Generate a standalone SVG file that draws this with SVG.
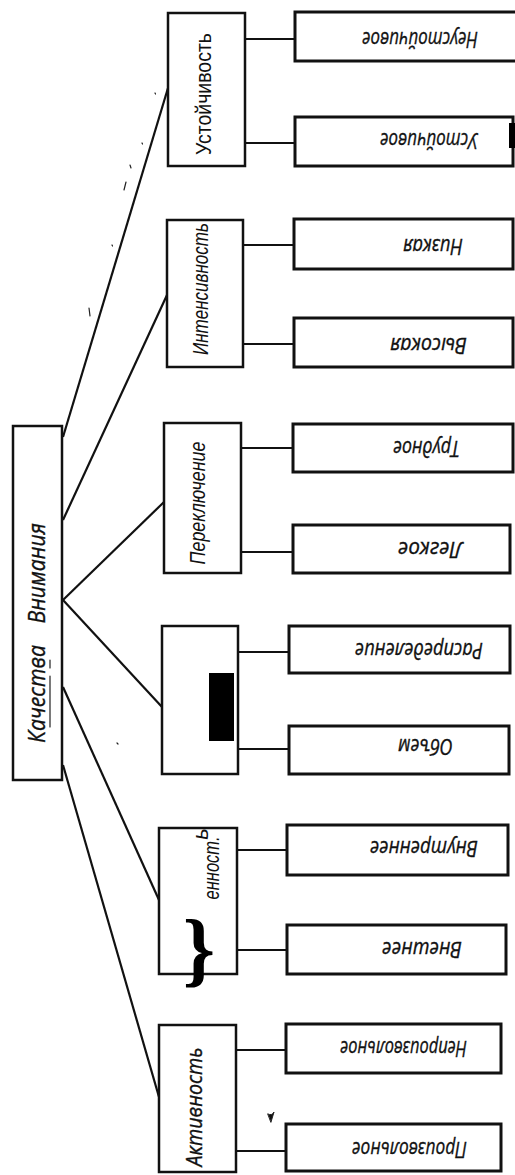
<svg xmlns="http://www.w3.org/2000/svg" width="515" height="1175" viewBox="0 0 515 1175">
<style>
.bg{fill:#fff}
.root{fill:#fff;stroke:#111;stroke-width:2.5}
.cat{fill:#fff;stroke:#111;stroke-width:2.5}
.leaf{fill:#fff;stroke:#111;stroke-width:3}
.conn line{stroke:#111;stroke-width:2.2;fill:none}
.lbl{font-family:"Liberation Sans",Arial,sans-serif;font-size:22px;fill:#111;text-anchor:middle;dominant-baseline:central}
.it{font-style:italic}
.cur{font-family:"Open Sans","Noto Sans",sans-serif;font-style:italic;fill:#111;stroke:#111;stroke-width:0.35;dominant-baseline:central}
.lt{font-size:22px;text-anchor:start}
.mark{stroke:#222;stroke-width:1.2;fill:none;stroke-linecap:round}
</style>
<rect class="bg" x="0" y="0" width="515" height="1175"/>

<g id="connectors" class="conn">
  <line x1="63" y1="437" x2="168" y2="88"/>
  <line x1="63" y1="520" x2="167" y2="295"/>
  <line x1="63" y1="600" x2="164" y2="502"/>
  <line x1="63" y1="600" x2="162" y2="707"/>
  <line x1="63" y1="687" x2="159" y2="900"/>
  <line x1="63" y1="765" x2="159" y2="1097"/>
  <line x1="245" y1="39" x2="295" y2="39"/>
  <line x1="245" y1="143" x2="295" y2="143"/>
  <line x1="243" y1="245" x2="294" y2="245"/>
  <line x1="243" y1="344" x2="294" y2="344"/>
  <line x1="241" y1="448" x2="293" y2="448"/>
  <line x1="241" y1="552" x2="293" y2="552"/>
  <line x1="238" y1="652" x2="289" y2="652"/>
  <line x1="238" y1="749" x2="289" y2="749"/>
  <line x1="237" y1="850" x2="287" y2="850"/>
  <line x1="237" y1="950" x2="287" y2="950"/>
  <line x1="236" y1="1050" x2="286" y2="1050"/>
  <line x1="236" y1="1151" x2="286" y2="1151"/>
</g>

<g id="root">
  <rect class="root" x="13" y="426" width="49" height="354"/>
  <text class="cur" font-size="24" text-anchor="middle" word-spacing="18" textLength="220" lengthAdjust="spacingAndGlyphs" x="35" y="633" transform="rotate(-90 35 633)">Качества Внимания</text>
</g>

<g id="cat-ustoichivost">
  <rect class="cat" x="168" y="13" width="77" height="153"/>
  <text class="lbl" textLength="122" lengthAdjust="spacingAndGlyphs" x="203" y="94" transform="rotate(-90 203 94)">Устойчивость</text>
</g>
<g id="cat-intensivnost">
  <rect class="cat" x="167" y="220" width="76" height="147"/>
  <text class="lbl it" textLength="132" lengthAdjust="spacingAndGlyphs" x="200" y="289" transform="rotate(-90 200 289)">Интенсивность</text>
</g>
<g id="cat-pereklyuchenie">
  <rect class="cat" x="164" y="423" width="77" height="150"/>
  <text class="lbl it" textLength="123" lengthAdjust="spacingAndGlyphs" x="197" y="503" transform="rotate(-90 197 503)">Переключение</text>
</g>
<g id="cat-obem">
  <rect class="cat" x="162" y="626" width="76" height="148"/>
  <rect x="209" y="673" width="25" height="68" fill="#000"/>
</g>
<g id="cat-napravlennost">
  <rect class="cat" x="159" y="828" width="78" height="146"/>
  <text class="lbl it" font-size="20" textLength="63" lengthAdjust="spacingAndGlyphs" x="211" y="868" transform="rotate(-90 211 868)">енност.</text>
  <text class="lbl it" font-size="11" x="200" y="834" transform="rotate(-90 200 834)">ь</text>
  <text x="199" y="976" font-family="Liberation Serif,serif" font-weight="bold" font-size="82" text-anchor="middle" fill="#000">}</text>
</g>
<g id="cat-aktivnost">
  <rect class="cat" x="159" y="1025" width="77" height="147"/>
  <text class="cur" font-size="21" text-anchor="middle" textLength="119" lengthAdjust="spacingAndGlyphs" x="194" y="1107" transform="rotate(-90 194 1107)">Активность</text>
</g>

<g id="leaf-neustoichivoe">
  <rect class="leaf" x="295" y="12" width="222" height="49"/>
  <text class="cur lt" textLength="116" lengthAdjust="spacingAndGlyphs" x="478" y="41" transform="rotate(180 478 41)">Неустойчивое</text>
</g>
<g id="leaf-ustoichivoe">
  <rect class="leaf" x="295" y="117" width="218" height="49"/>
  <rect x="509" y="123" width="6" height="25" fill="#000"/>
  <text class="cur lt" textLength="98" lengthAdjust="spacingAndGlyphs" x="478" y="142" transform="rotate(180 478 142)">Устойчивое</text>
</g>
<g id="leaf-nizkaya">
  <rect class="leaf" x="294" y="219" width="219" height="50"/>
  <text class="cur lt" textLength="60" lengthAdjust="spacingAndGlyphs" x="463" y="248" transform="rotate(180 463 248)">Низкая</text>
</g>
<g id="leaf-vysokaya">
  <rect class="leaf" x="294" y="318" width="219" height="49"/>
  <text class="cur lt" textLength="77" lengthAdjust="spacingAndGlyphs" x="467" y="347" transform="rotate(180 467 347)">Высокая</text>
</g>
<g id="leaf-trudnoe">
  <rect class="leaf" x="293" y="424" width="220" height="48"/>
  <text class="cur lt" textLength="67" lengthAdjust="spacingAndGlyphs" x="460" y="450" transform="rotate(180 460 450)">Трудное</text>
</g>
<g id="leaf-legkoe">
  <rect class="leaf" x="293" y="525" width="217" height="48"/>
  <text class="cur lt" textLength="65" lengthAdjust="spacingAndGlyphs" x="463" y="551" transform="rotate(180 463 551)">Легкое</text>
</g>
<g id="leaf-raspredelenie">
  <rect class="leaf" x="289" y="626" width="221" height="47"/>
  <text class="cur lt" textLength="128" lengthAdjust="spacingAndGlyphs" x="483" y="652" transform="rotate(180 483 652)">Распределение</text>
</g>
<g id="leaf-obem">
  <rect class="leaf" x="289" y="726" width="220" height="48"/>
  <text class="cur lt" textLength="55" lengthAdjust="spacingAndGlyphs" x="453" y="748" transform="rotate(180 453 748)">Объем</text>
</g>
<g id="leaf-vnutrennee">
  <rect class="leaf" x="287" y="825" width="221" height="50"/>
  <text class="cur lt" textLength="108" lengthAdjust="spacingAndGlyphs" x="478" y="850" transform="rotate(180 478 850)">Внутреннее</text>
</g>
<g id="leaf-vneshnee">
  <rect class="leaf" x="287" y="925" width="219" height="49"/>
  <text class="cur lt" textLength="80" lengthAdjust="spacingAndGlyphs" x="462" y="951" transform="rotate(180 462 951)">Внешнее</text>
</g>
<g id="leaf-neproizvolnoe">
  <rect class="leaf" x="286" y="1024" width="215" height="49"/>
  <text class="cur lt" textLength="127" lengthAdjust="spacingAndGlyphs" x="467" y="1050" transform="rotate(180 467 1050)">Непроизвольное</text>
</g>
<g id="leaf-proizvolnoe">
  <rect class="leaf" x="286" y="1124" width="215" height="47"/>
  <text class="cur lt" textLength="115" lengthAdjust="spacingAndGlyphs" x="467" y="1151" transform="rotate(180 467 1151)">Произвольное</text>
</g>

<g id="scan-marks" class="mark">
  <path d="M50 660 L50 668 M50 676 L50 727"/>
  <path d="M117 743 l1 1"/>
  <path d="M130 165 l1 3 M124 190 l2 -8 M89 308 l1 8 M155 93 l0.5 1 M142 143 l0.5 1 M112 245 l0.5 1"/>
  <path d="M268 1114 q4 2 6 -2 l-3 10 z" fill="#111" stroke-width="1"/>
</g>
</svg>
